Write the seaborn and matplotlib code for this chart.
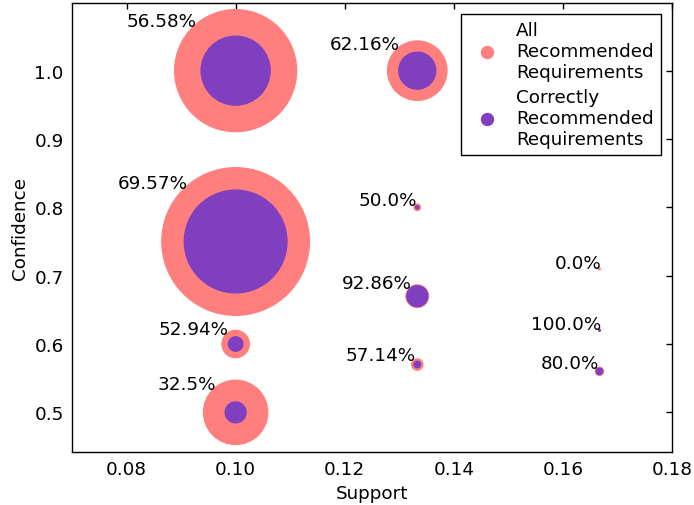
import matplotlib
matplotlib.use("Agg")
import matplotlib.pyplot as plt
import seaborn as sns
import pandas as pd
from matplotlib.lines import Line2D

# ---- data ----
support = [0.1, 0.1, 0.1, 0.1, 0.1333, 0.1333, 0.1333, 0.1333, 0.1667, 0.1667, 0.1667]
confidence = [1.0, 0.75, 0.6, 0.5, 1.0, 0.8, 0.67, 0.57, 0.71, 0.62, 0.56]
all_recommended = [76, 92, 17, 40, 37, 4, 14, 7, 1, 1, 5]
correct_recommended = [43, 64, 9, 13, 23, 2, 13, 4, 0, 1, 4]

x_ticks = [0.08, 0.10, 0.12, 0.14, 0.16, 0.18]
x_tick_labels = ["0.08", "0.10", "0.12", "0.14", "0.16", "0.18"]
y_ticks = [0.5, 0.6, 0.7, 0.8, 0.9, 1.0]
y_tick_labels = ["0.5", "0.6", "0.7", "0.8", "0.9", "1.0"]

legend_labels = ["All\nRecommended\nRequirements", "Correctly\nRecommended\nRequirements"]
salmon = "#FF7F7F"
purple = "#7F3FBF"

FS = 13.2
sns.set_style("white")
plt.rcParams.update({
    "font.family": ["DejaVu Sans"],
    "font.size": FS,
    "xtick.direction": "in",
    "ytick.direction": "in",
    "xtick.top": True,
    "ytick.right": True,
    "xtick.major.size": 4.5,
    "ytick.major.size": 4.5,
    "xtick.major.width": 1.0,
    "ytick.major.width": 1.0,
    "xtick.color": "black",
    "ytick.color": "black",
    "axes.edgecolor": "black",
    "axes.linewidth": 1.0,
    "axes.labelcolor": "black",
    "text.color": "black",
})

df = pd.DataFrame({
    "Support": support,
    "Confidence": confidence,
    "all": all_recommended,
    "correct": correct_recommended,
})
K = 1.3336  # points^2 per count^2 (radius proportional to count)
df["area_all"] = K * df["all"] ** 2
df["area_correct"] = K * df["correct"] ** 2
amax = float(df["area_all"].max())

fig = plt.figure(figsize=(6.94, 5.06), dpi=100)
ax = fig.add_axes([72 / 694, 53 / 506, 600 / 694, 449 / 506])

sns.scatterplot(data=df, x="Support", y="Confidence", size="area_all",
                sizes=(0, amax), size_norm=(0, amax), color=salmon,
                edgecolor=salmon, linewidth=1.0, legend=False, ax=ax, zorder=2)
sns.scatterplot(data=df, x="Support", y="Confidence", size="area_correct",
                sizes=(0, amax), size_norm=(0, amax), color=purple,
                edgecolor=purple, linewidth=1.0, legend=False, ax=ax, zorder=3)

for _, row in df.iterrows():
    pct = round(100 * row["correct"] / row["all"], 2)
    r_pt = (row["area_all"] ** 0.5) / 2 + 0.5
    ax.annotate(f"{pct}%", (row["Support"], row["Confidence"]),
                xytext=(-0.68 * r_pt + 2.0, 0.72 * r_pt), textcoords="offset points",
                ha="right", va="baseline", fontsize=FS, zorder=4)

ax.set_xlim(0.07, 0.18)
ax.set_ylim(0.442, 1.099)
ax.set_xticks(x_ticks)
ax.set_xticklabels(x_tick_labels)
ax.set_yticks(y_ticks)
ax.set_yticklabels(y_tick_labels)
ax.tick_params(labelsize=FS, pad=6)
ax.set_xlabel("Support", fontsize=FS)
ax.set_ylabel("Confidence", fontsize=FS)
for s in ax.spines.values():
    s.set_visible(True)
    s.set_color("black")

handles = [
    Line2D([], [], marker="o", linestyle="none", markersize=8.6,
           markerfacecolor=salmon, markeredgecolor=salmon),
    Line2D([], [], marker="o", linestyle="none", markersize=8.6,
           markerfacecolor=purple, markeredgecolor=purple),
]
leg = ax.legend(handles, legend_labels, loc="upper right", fontsize=FS,
                frameon=True, fancybox=False, framealpha=1.0,
                borderaxespad=0.6, handletextpad=0.6, labelspacing=0.4,
                borderpad=0.4)
leg.get_frame().set_edgecolor("black")
leg.get_frame().set_linewidth(1.0)

fig.savefig("out.png", dpi=100)
